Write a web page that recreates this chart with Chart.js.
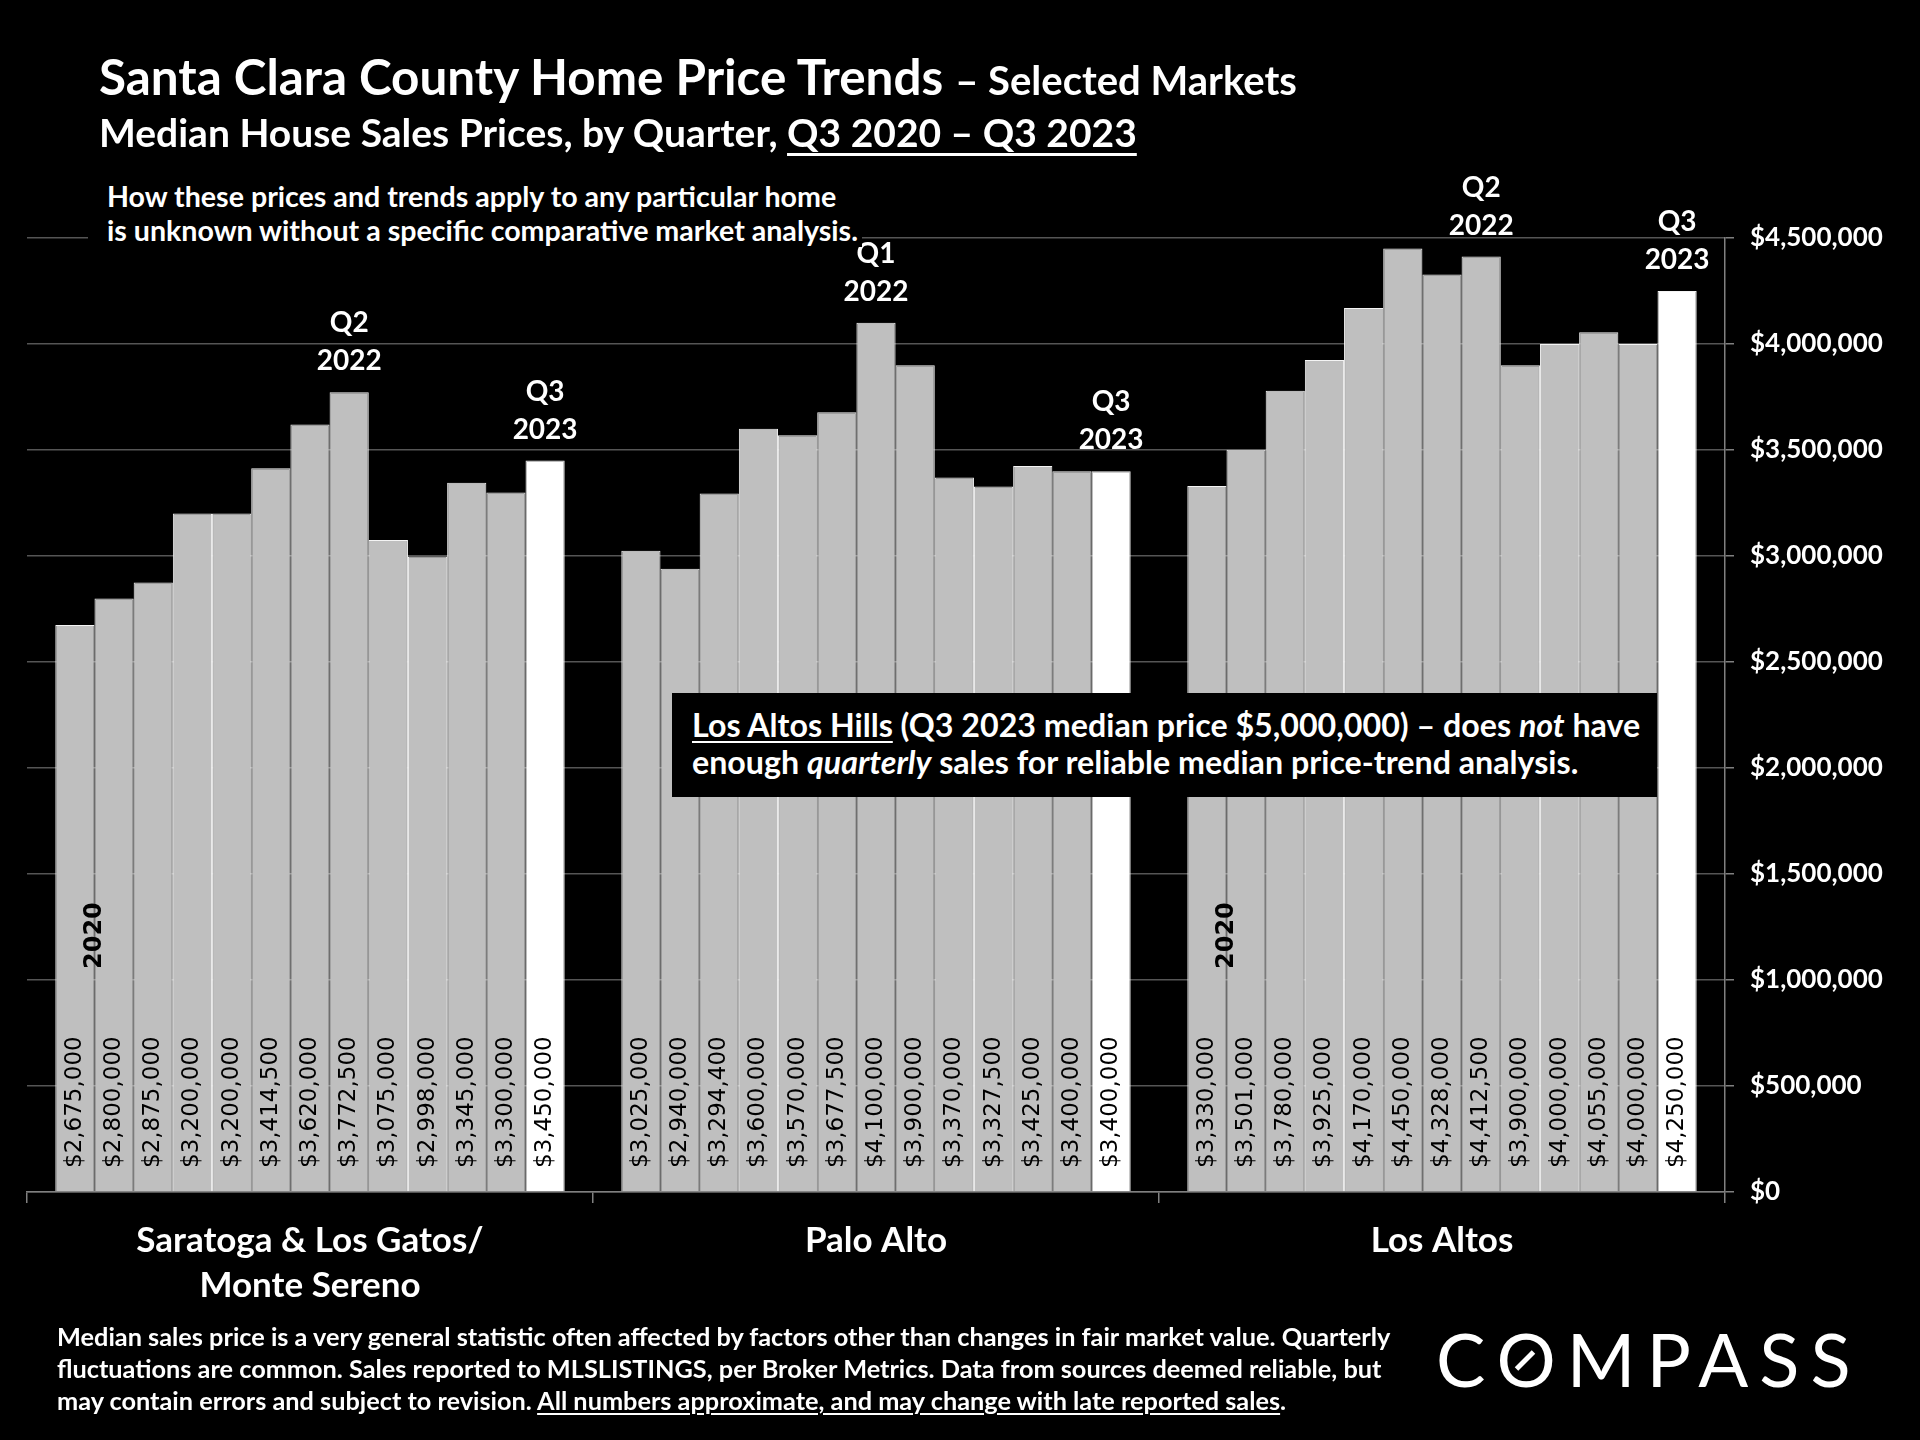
<!DOCTYPE html>
<html>
<head>
<meta charset="utf-8">
<script src="https://cdn.jsdelivr.net/npm/chart.js@4.4.0/dist/chart.umd.min.js"></script>
<style>
  html, body { margin: 0; padding: 0; background: #000; }
  #wrap { position: relative; width: 1920px; height: 1440px; background: #000; overflow: hidden; }
  #myChart { position: absolute; left: 0; top: 0; }
  .txt { position: absolute; color: #fff; font-family: Lato, sans-serif; font-weight: bold; white-space: nowrap; line-height: 1; }
  #title { left: 99px; top: 52px; font-size: 49.4px; }
  #title span { font-size: 40px; }
  #subtitle { left: 99px; top: 113px; font-size: 39px; }
  #subtitle u { text-decoration-thickness: 3px; text-underline-offset: 6px; }
  #note { left: 88px; top: 179px; padding: 0 4px 0 19px; font-size: 28.6px; line-height: 34px; background: #000; }
  #lah { left: 672px; top: 693px; width: 945px; padding: 13px 20px 17px 20px; font-size: 32.2px; line-height: 37px; background: #000; }
  #lah u { text-decoration-thickness: 2px; text-underline-offset: 4px; }
  #footer { left: 57px; top: 1320px; font-size: 25.3px; line-height: 32px; }
  #footer u { text-decoration-thickness: 2px; text-underline-offset: 3px; }
  #logo { left: 1436px; top: 1322px; font-size: 74px; font-weight: 400; letter-spacing: 11px; }
  #logo .o { position: relative; display: inline-block; }
  #logo .o::after { content: ''; position: absolute; left: 17px; top: 36px; width: 24px; height: 5px; background: #fff; transform: rotate(-45deg); }
</style>
</head>
<body>
<div id="wrap">
  <canvas id="myChart" width="1920" height="1440"></canvas>
  <div class="txt" id="title">Santa Clara County Home Price Trends <span>– Selected Markets</span></div>
  <div class="txt" id="subtitle">Median House Sales Prices, by Quarter, <u>Q3 2020 – Q3 2023</u></div>
  <div class="txt" id="note">How these prices and trends apply to any particular home<br>is unknown without a specific comparative market analysis.</div>
  <div class="txt" id="lah"><u>Los Altos Hills</u> (Q3 2023 median price $5,000,000) – does <i>not</i> have<br>enough <i>quarterly</i> sales for reliable median price-trend analysis.</div>
  <div class="txt" id="footer">Median sales price is a very general statistic often affected by factors other than changes in fair market value. Quarterly<br>fluctuations are common. Sales reported to MLSLISTINGS, per Broker Metrics. Data from sources deemed reliable, but<br>may contain errors and subject to revision. <u>All numbers approximate, and may change with late reported sales</u>.</div>
  <div class="txt" id="logo">C<span class="o">O</span>MPASS</div>
</div>
<script>
// markets along the x axis, one bar per quarter inside each
const markets = [['Saratoga & Los Gatos/', 'Monte Sereno'], 'Palo Alto', 'Los Altos'];
const quarters = ['Q3 2020', 'Q4 2020', 'Q1 2021', 'Q2 2021', 'Q3 2021', 'Q4 2021',
                  'Q1 2022', 'Q2 2022', 'Q3 2022', 'Q4 2022', 'Q1 2023', 'Q2 2023', 'Q3 2023'];

const saratoga = [2675000, 2800000, 2875000, 3200000, 3200000, 3414500, 3620000,
                  3772500, 3075000, 2998000, 3345000, 3300000, 3450000];
const paloAlto = [3025000, 2940000, 3294400, 3600000, 3570000, 3677500, 4100000,
                  3900000, 3370000, 3327500, 3425000, 3400000, 3400000];
const losAltos = [3330000, 3501000, 3780000, 3925000, 4170000, 4450000, 4328000,
                  4412500, 3900000, 4000000, 4055000, 4000000, 4250000];

// [market index, quarter index, text lines] for the callouts above bars
const callouts = [
    [0, 7, ['Q2', '2022']],
    [0, 12, ['Q3', '2023']],
    [1, 6, ['Q1', '2022']],
    [1, 12, ['Q3', '2023']],
    [2, 7, ['Q2', '2022']],
    [2, 12, ['Q3', '2023']],
];
const yearMarks = [0, 2]; // markets that get the "2020" tag on the first bar

const money = v => '$' + Number(v).toLocaleString('en-US');

const barLabels = {
    id: 'barLabels',
    afterDatasetsDraw(chart) {
        const ctx = chart.ctx;
        const yBase = chart.scales.y.getPixelForValue(0);

        // value inside each bar, reading bottom to top
        ctx.save();
        ctx.fillStyle = '#000';
        ctx.font = '23px "DejaVu Sans"';
        ctx.textAlign = 'left';
        ctx.textBaseline = 'middle';
        chart.data.datasets.forEach((ds, i) => {
            chart.getDatasetMeta(i).data.forEach((bar, j) => {
                ctx.save();
                ctx.translate(bar.x, yBase - 24);
                ctx.rotate(-Math.PI / 2);
                ctx.fillText(money(ds.data[j]), 0, 0);
                ctx.restore();
            });
        });

        // "2020" tag
        ctx.font = 'bold 24px "DejaVu Sans"';
        yearMarks.forEach(m => {
            const bar = chart.getDatasetMeta(0).data[m];
            ctx.save();
            ctx.translate(bar.x + bar.width / 2, yBase - 223);
            ctx.rotate(-Math.PI / 2);
            ctx.fillText('2020', 0, 0);
            ctx.restore();
        });

        // quarter callouts above bars
        ctx.fillStyle = '#fff';
        ctx.font = 'bold 28px Lato';
        ctx.textAlign = 'center';
        ctx.textBaseline = 'alphabetic';
        callouts.forEach(([m, q, lines]) => {
            const bar = chart.getDatasetMeta(q).data[m];
            ctx.fillText(lines[0], bar.x, bar.y - 60);
            ctx.fillText(lines[1], bar.x, bar.y - 22);
        });
        ctx.restore();
    }
};

const ctx = document.getElementById('myChart');

const chart1 = new Chart(ctx, {
    type: 'bar',
    data: {
        labels: markets,
        datasets: quarters.map((q, i) => ({
            label: q,
            data: [saratoga[i], paloAlto[i], losAltos[i]],
            backgroundColor: i === quarters.length - 1 ? '#ffffff' : '#bfbfbf',
            borderColor: '#f4f4f4',
            borderWidth: 1,
            categoryPercentage: 0.9,
            barPercentage: 1.0,
        })),
    },
    options: {
        responsive: false,
        devicePixelRatio: 1,
        animation: false,
        layout: {
            padding: { left: 27, top: 238, right: 0, bottom: 0 }
        },
        plugins: {
            legend: { display: false },
            tooltip: { enabled: false },
        },
        scales: {
            x: {
                grid: {
                    display: true,
                    drawOnChartArea: false,
                    tickLength: 11,
                    color: '#808080',
                    lineWidth: 1.5,
                    offset: true,
                },
                border: { color: '#808080', width: 1.5 },
                ticks: {
                    color: '#fff',
                    padding: 15,
                    maxRotation: 0,
                    font: { family: 'Lato', weight: 'bold', size: 35, lineHeight: 1.29 },
                },
                afterFit: (scale) => { scale.height = 248; },
            },
            y: {
                position: 'right',
                min: 0,
                max: 4500000,
                grid: {
                    color: '#555555',
                    lineWidth: 1.5,
                    tickLength: 9,
                    tickColor: '#808080',
                },
                border: { color: '#808080', width: 1.5 },
                ticks: {
                    stepSize: 500000,
                    color: '#fff',
                    padding: 16,
                    font: { family: 'Lato', weight: 'bold', size: 26 },
                    callback: (value) => money(value),
                },
                afterFit: (scale) => { scale.width = 195; },
            }
        }
    },
    plugins: [barLabels]
});
</script>
</body>
</html>
